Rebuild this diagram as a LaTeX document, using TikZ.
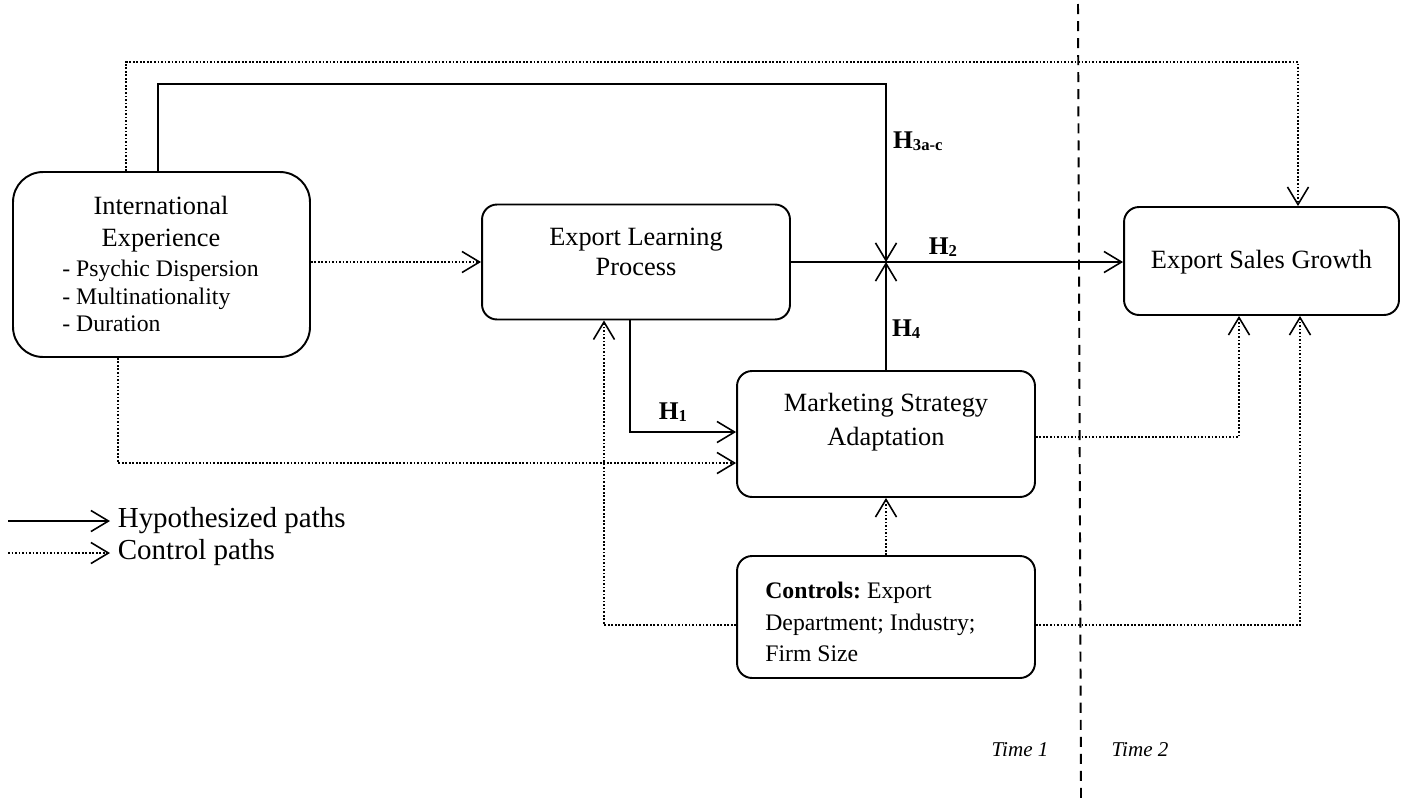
\documentclass[tikz,border=0pt]{standalone}
\usepackage{fontspec}
\setmainfont{Liberation Serif}
\usetikzlibrary{arrows.meta}

\newcommand{\hlab}[1]{\textbf{H\raisebox{-1.2pt}{\fontsize{9.5}{10}\selectfont #1}}}

\begin{document}
\begin{tikzpicture}[x=0.02cm, y=-0.02cm,
	box/.style={draw, line width=1.1pt, rounded corners=0.3cm, inner sep=0pt},
	boxtext/.style={align=center, font=\fontsize{15}{17}\selectfont},
	hyp/.style={line width=0.9pt, -{Straight Barb[length=10pt,width=12pt,line width=0.9pt]}},
	ctl/.style={line width=1pt, dash pattern=on 1pt off 1pt, -{Straight Barb[length=10pt,width=12pt,line width=0.9pt]}},
	hname/.style={font=\fontsize{14.5}{16}\selectfont, inner sep=1pt},
	legendtext/.style={font=\fontsize{16.5}{19}\selectfont, right, inner sep=4pt}]
	
	\useasboundingbox (0,0) rectangle (1409,798);
	
	% boxes
	\node [box, rounded corners=0.6cm, minimum width=5.94cm, minimum height=3.7cm] (ie) at (161.5,264.5) {};
	\node [box, minimum width=6.16cm, minimum height=2.3cm] (elp) at (636,262) {};
	\node [box, minimum width=5.96cm, minimum height=2.52cm] (msa) at (886,434) {};
	\node [box, minimum width=5.96cm, minimum height=2.44cm] (ctrl) at (886,617) {};
	\node [box, minimum width=5.5cm, minimum height=2.16cm] (esg) at (1261.5,261) {};
	
	% box texts
	\node [boxtext, font=\fontsize{15}{18.2}\selectfont] (iehead) at (161,224) {International\\Experience};
	\node [align=left, anchor=west, inner sep=0pt, font=\fontsize{13.5}{15.6}\selectfont] (ielist) at (62,296) {- Psychic Dispersion\\- Multinationality\\- Duration};
	\node [boxtext] (elptext) at (636,252) {Export Learning\\Process};
	\node [boxtext, font=\fontsize{15}{19.3}\selectfont] (msatext) at (886,422) {Marketing Strategy\\Adaptation};
	\node [align=left, anchor=west, inner sep=0pt, font=\fontsize{13.5}{17.9}\selectfont] (ctrltext) at (765,622) {\textbf{Controls:}~Export\\Department; Industry;\\Firm Size};
	\node [boxtext] (esgtext) at (1261.5,262) {Export Sales Growth};
	
	% lanes of the connectors
	\coordinate (dtopL) at (126,62);
	\coordinate (dtopR) at (1298,62);
	\coordinate (htopL) at (158,84);
	\coordinate (jn) at (886,262);
	\coordinate (h1c) at (630,432);
	\coordinate (ieb) at (118,463);
	\coordinate (cl) at (604,625);
	\coordinate (mr) at (1239,437);
	\coordinate (cr) at (1300,625);
	
	% hypothesized paths
	\draw [hyp] (ie.north -| htopL) -- (htopL) -| (jn);
	\node [hname, anchor=west] (h3) at (891,141) {\hlab{3a-c}};
	
	\draw [hyp] (elp.east |- jn) -- (esg.west |- jn);
	\node [hname] (h2) at (943,247) {\hlab{2}};
	
	\draw [hyp] (msa.north) -- (jn);
	\node [hname, anchor=west] (h4) at (890,329) {\hlab{4}};
	
	\draw [hyp] (elp.south -| h1c) -- (h1c) -- (msa.west |- h1c);
	\node [hname] (h1) at (673,412) {\hlab{1}};
	
	% control paths
	\draw [ctl] (ie.north -| dtopL) -- (dtopL) -- (dtopR) -- (esg.north -| dtopR);
	\draw [ctl] (ie.east |- elp.west) -- (elp.west);
	\draw [ctl] (ie.south -| ieb) -- (ieb) -- (msa.west |- ieb);
	\draw [ctl] (ctrl.west |- cl) -- (cl) -- (elp.south -| cl);
	\draw [ctl] (ctrl.north) -- (msa.south);
	\draw [ctl] (msa.east |- mr) -- (mr) -- (esg.south -| mr);
	\draw [ctl] (ctrl.east |- cr) -- (cr) -- (esg.south -| cr);
	
	% time line
	\draw [line width=1.1pt, dash pattern=on 5.7pt off 4pt] (1078,4) -- (1081,798);
	\node [font=\fontsize{12}{14}\selectfont\itshape] (t1) at (1020,750) {Time 1};
	\node [font=\fontsize{12}{14}\selectfont\itshape] (t2) at (1140,750) {Time 2};
	
	% legend
	\coordinate (lg1) at (8,521);
	\coordinate (lg2) at (8,553);
	\draw [hyp] (lg1) -- ++(102,0) node [legendtext] (lghyp) {Hypothesized paths};
	\draw [ctl] (lg2) -- ++(102,0) node [legendtext] (lgctl) {Control paths};
	
\end{tikzpicture}
\end{document}
